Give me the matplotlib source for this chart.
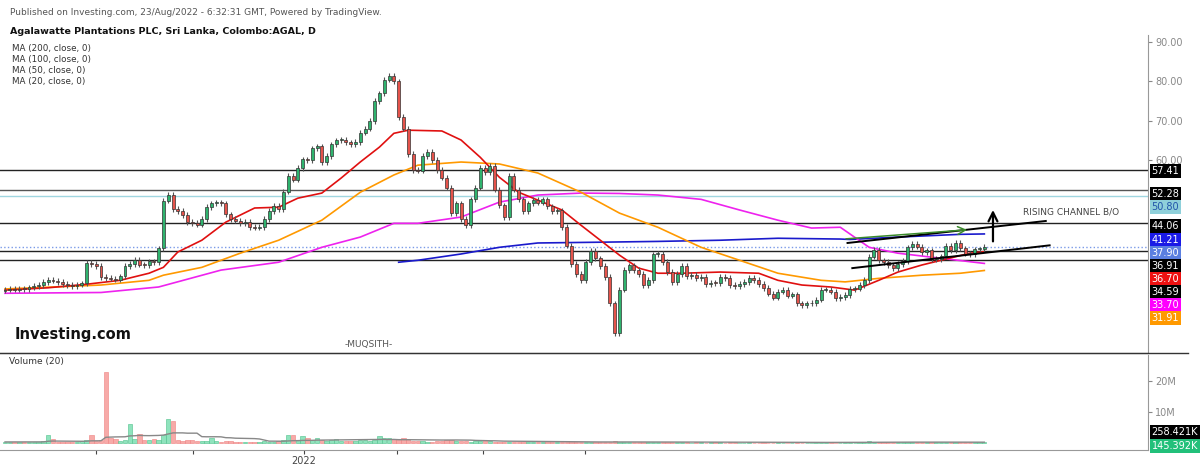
import numpy as np
import pandas as pd
import matplotlib
matplotlib.use("Agg")
import matplotlib.pyplot as plt
from matplotlib import transforms

# daily closes (bar 0 .. 204)
closes = [
    27.0, 27.2, 27.0, 27.3, 27.1, 27.6, 27.9, 28.2, 29.0, 29.6,
    29.3, 29.0, 28.5, 28.2, 28.0, 28.3, 28.6, 33.8, 33.5, 33.0,
    30.2, 30.0, 29.8, 29.6, 30.4, 33.0, 33.6, 34.6, 33.4, 33.2,
    34.2, 34.0, 37.5, 49.7, 51.2, 47.5, 47.0, 46.0, 44.2, 44.0,
    43.6, 45.0, 48.0, 49.0, 49.2, 49.0, 46.2, 45.0, 44.6, 44.0,
    44.2, 43.0, 42.8, 43.0, 45.0, 47.0, 48.4, 47.6, 52.0, 56.0,
    55.0, 58.0, 60.2, 60.0, 63.0, 63.5, 59.5, 61.0, 64.0, 65.0,
    65.2, 64.5, 64.0, 64.6, 67.0, 68.0, 70.0, 75.0, 77.0, 80.5,
    81.5, 80.0, 71.0, 68.0, 61.5, 57.5, 57.3, 61.0, 62.0, 60.0,
    57.5, 55.5, 53.0, 46.5, 49.0, 45.0, 43.5, 50.0, 53.0, 58.0,
    57.0, 58.5, 52.5, 48.5, 45.5, 56.0, 52.5, 50.0, 47.0, 49.0,
    49.8, 49.2, 50.0, 48.2, 47.0, 47.2, 43.0, 38.2, 33.5, 31.0,
    29.5, 34.0, 36.8, 35.0, 33.0, 30.2, 23.5, 16.0, 27.0, 32.0,
    33.2, 32.0, 31.0, 28.2, 29.5, 36.0, 36.2, 34.0, 31.5, 29.0,
    31.0, 33.0, 30.5, 30.8, 30.0, 30.2, 28.5, 28.8, 28.7, 30.2,
    30.0, 28.2, 28.0, 28.5, 29.0, 30.0, 29.5, 28.5, 27.5, 26.0,
    25.0, 26.5, 27.0, 25.5, 25.8, 23.5, 23.0, 23.5, 23.6, 24.5,
    27.0, 27.0, 26.5, 24.8, 25.2, 25.7, 27.2, 27.3, 28.2, 29.5,
    35.4, 37.2, 34.5, 34.0, 33.2, 32.5, 33.5, 34.3, 37.8, 38.6,
    38.0, 36.5, 37.0, 34.8, 34.8, 35.5, 38.2, 37.0, 39.0, 37.5,
    36.2, 36.0, 37.3, 37.3, 37.9,
]
first_open = 26.8

# volume in millions
volume = [
    0.3, 0.3, 0.2, 0.3, 0.3, 0.4, 0.3, 0.3, 0.5, 2.4,
    1.2, 0.4, 0.3, 0.3, 0.4, 0.3, 0.5, 1.0, 2.7, 0.6,
    0.8, 23.0, 1.5, 1.2, 0.6, 1.0, 6.0, 1.2, 3.0, 1.0,
    0.8, 1.2, 1.0, 2.5, 7.7, 7.2, 0.8, 0.7, 0.8, 0.9,
    0.6, 0.5, 0.6, 1.5, 0.5, 0.4, 0.6, 0.5, 0.4, 0.3,
    0.3, 0.4, 0.3, 0.2, 0.5, 0.4, 0.4, 0.6, 0.8, 2.5,
    2.4, 0.8, 2.3, 1.5, 0.8, 1.6, 1.0, 0.6, 0.8, 1.2,
    0.7, 0.6, 0.5, 0.6, 0.8, 0.9, 0.7, 1.0, 2.2, 1.5,
    1.5, 1.4, 0.8, 1.5, 1.2, 0.7, 0.6, 0.5, 0.4, 0.4,
    0.5, 0.6, 0.8, 0.9, 0.5, 0.7, 0.6, 0.4, 0.5, 0.6,
    1.0, 0.5, 0.4, 0.3, 0.3, 0.4, 0.3, 0.3, 0.4, 0.3,
    0.3, 0.2, 0.3, 0.2, 0.3, 0.2, 0.4, 0.3, 0.3, 0.4,
    0.3, 0.2, 0.3, 0.2, 0.2, 0.3, 0.4, 0.5, 0.4, 0.3,
    0.2, 0.2, 0.3, 0.2, 0.2, 0.3, 0.2, 0.2, 0.2, 0.3,
    0.2, 0.2, 0.2, 0.1, 0.2, 0.2, 0.1, 0.2, 0.2, 0.2,
    0.1, 0.2, 0.2, 0.1, 0.1, 0.2, 0.1, 0.1, 0.2, 0.1,
    0.1, 0.2, 0.1, 0.1, 0.1, 0.2, 0.1, 0.1, 0.1, 0.2,
    0.3, 0.2, 0.2, 0.1, 0.1, 0.2, 0.2, 0.1, 0.2, 0.3,
    0.5, 0.4, 0.3, 0.2, 0.2, 0.2, 0.2, 0.2, 0.3, 0.3,
    0.2, 0.2, 0.2, 0.2, 0.2, 0.2, 0.3, 0.2, 0.2, 0.2,
    0.2, 0.2, 0.2, 0.2, 0.3,
]

# moving averages: (bar index, value)
ma20_x = [0, 9, 17, 24, 30, 33, 36, 41, 46, 52, 57, 61, 66, 70, 74, 78, 81, 84, 91, 95, 99, 103,
          107, 111, 116, 120, 124, 128, 132, 136, 141, 149, 157, 161, 166, 172, 177, 182, 186,
          191, 196, 201, 204]
ma20_y = [26.9, 27.5, 28.4, 29.4, 31.2, 32.7, 36.6, 39.6, 44.2, 47.8, 48.0, 50.3, 51.6, 55.4,
          59.5, 63.3, 66.8, 67.6, 67.4, 65.1, 60.7, 55.6, 51.8, 49.8, 47.3, 43.4, 39.6, 35.8,
          32.5, 31.2, 31.2, 31.5, 31.2, 29.4, 28.2, 27.7, 26.9, 29.4, 31.5, 33.3, 34.8, 36.3, 36.7]
ma50_x = [0, 20, 30, 33, 41, 49, 57, 66, 74, 81, 86, 95, 103, 111, 120, 128, 136, 145, 153, 161,
          170, 175, 182, 191, 199, 204]
ma50_y = [27.2, 28.2, 29.4, 30.7, 32.7, 36.3, 39.6, 44.7, 51.8, 56.2, 58.7, 59.5, 59.0, 56.7,
          51.8, 46.5, 42.9, 37.8, 34.5, 31.2, 29.4, 29.0, 29.9, 30.7, 31.2, 31.9]
ma100_x = [0, 20, 32, 45, 57, 66, 74, 81, 86, 95, 103, 111, 120, 128, 136, 145, 153, 161, 168,
           174, 180, 186, 195, 204]
ma100_y = [26.1, 26.3, 27.7, 32.0, 34.0, 37.8, 40.4, 43.9, 43.9, 45.5, 49.3, 51.1, 51.6, 51.5,
           51.1, 50.0, 47.3, 44.7, 42.7, 42.9, 37.8, 36.3, 35.0, 33.7]
ma200_x = [82, 86, 95, 103, 111, 124, 136, 149, 161, 174, 176, 186, 199, 204]
ma200_y = [34.0, 34.5, 36.1, 37.8, 38.9, 39.1, 39.3, 39.6, 40.1, 39.9, 39.8, 40.4, 41.1, 41.2]

levels = [57.41, 52.28, 50.80, 44.06, 37.90, 36.91, 34.59]
level_colors = ["#222222", "#555555", "#9fd6e0", "#222222", "#7a9ae8", "#222222", "#222222"]
level_styles = ["-", "-", "-", "-", ":", "-", "-"]

tag_text = ["57.41", "52.28", "50.80", "44.06", "41.21", "37.90", "36.91", "36.70", "34.59",
            "33.70", "31.91"]
tag_pos = [57.2, 51.3, 48.0, 43.2, 39.6, 36.3, 33.0, 29.7, 26.4, 23.1, 19.8]
tag_bg = ["#000000", "#000000", "#8fd0da", "#000000", "#1a1ae6", "#5b7fe0", "#000000",
          "#ee1111", "#000000", "#ff00ff", "#ff9900"]
tag_fg = ["white", "white", "#2255aa", "white", "white", "white", "white", "white", "white",
          "white", "white"]

month_ticks = [18.9, 39.2, 62.3, 81.7, 99.6, 120.8]

closes = np.array(closes)
opens = np.concatenate([[first_open], closes[:-1]])
idx = np.arange(len(closes))
up = closes >= opens
vol = np.array(volume)
vol_ma = pd.Series(vol).rolling(20, min_periods=1).mean()

fig = plt.figure(figsize=(12, 4.68), dpi=100)
ax = fig.add_axes([0.0, 0.2457, 0.9567, 0.6793])
axv = fig.add_axes([0.0, 0.0385, 0.9567, 0.203])
xlim = (-1.04, 238.1)

# horizontal levels
for lv, c, ls in zip(levels, level_colors, level_styles):
    ax.axhline(lv, color=c, lw=1.0, ls=ls, zorder=1)

# moving averages
ax.plot(ma200_x, ma200_y, color="#1a1acc", lw=1.2, zorder=2)
ax.plot(ma100_x, ma100_y, color="#ee22ee", lw=1.2, zorder=2)
ax.plot(ma50_x, ma50_y, color="#ff9900", lw=1.2, zorder=2)
ax.plot(ma20_x, ma20_y, color="#e01010", lw=1.2, zorder=2)

# candles
wick = 0.7
lo = np.minimum(opens, closes) - wick
hi = np.maximum(opens, closes) + wick
ax.vlines(idx, lo, hi, color="#555555", lw=0.8, zorder=3)
body_col = np.where(up, "#2fb36e", "#e5534b")
ax.bar(idx, np.maximum(np.abs(closes - opens), 0.25), bottom=np.minimum(opens, closes),
       width=0.62, color=body_col, edgecolor="#333333", linewidth=0.5, zorder=4)

# channel lines and arrows
ax.plot([175.5, 216.8], [38.9, 44.5], color="black", lw=1.4, zorder=5)
ax.plot([176.5, 217.6], [32.5, 38.3], color="black", lw=1.4, zorder=5)
ax.annotate("", xy=(201, 42.3), xytext=(174.6, 39.9),
            arrowprops=dict(arrowstyle="->", color="#3a8a2a", lw=1.1, mutation_scale=14), zorder=5)
ax.annotate("", xy=(205.8, 48.0), xytext=(205.8, 38.6),
            arrowprops=dict(arrowstyle="->", color="black", lw=1.6, mutation_scale=16), zorder=5)
ax.text(212, 46.8, "RISING CHANNEL B/O", fontsize=6.5, color="#444444", va="center")

ax.set_xlim(*xlim)
ax.set_ylim(10.9, 91.8)
ax.yaxis.tick_right()
ax.set_yticks([60, 70, 80, 90])
ax.set_yticklabels(["%.2f" % v for v in [60, 70, 80, 90]])
ax.tick_params(axis="y", labelsize=7, colors="#888888", length=3, pad=2)
ax.set_xticks([])
for s in ["top", "left"]:
    ax.spines[s].set_visible(False)
ax.spines["right"].set_color("#999999")
ax.spines["bottom"].set_color("#333333")

tr = transforms.blended_transform_factory(ax.transAxes, ax.transData)
for t, p, bg, fg in zip(tag_text, tag_pos, tag_bg, tag_fg):
    ax.text(1.003, p, t, transform=tr, fontsize=7, color=fg, va="center", ha="left",
            bbox=dict(boxstyle="square,pad=0.2", fc=bg, ec="none"), zorder=10, clip_on=False)

ax.text(0.013, 0.035, "Investing.com", transform=ax.transAxes, fontsize=10.5, fontweight="bold",
        color="#111111", va="bottom")
ax.text(0.30, 0.02, "-MUQSITH-", transform=ax.transAxes, fontsize=6.5, color="#555555")

# volume pane
vcol = np.where(up, "#8fe3bd", "#f7aaa8")
vedge = np.where(up, "#4cc08a", "#ee8080")
axv.bar(idx, vol, width=0.9, color=vcol, edgecolor=vedge, linewidth=0.4)
axv.plot(idx, vol_ma, color="#888888", lw=1.0)
axv.set_xlim(*xlim)
axv.set_ylim(-2.3, 28.4)
axv.yaxis.tick_right()
axv.set_yticks([10, 20])
axv.set_yticklabels(["10M", "20M"])
axv.tick_params(axis="y", labelsize=7, colors="#888888", length=3, pad=2)
axv.set_xticks(month_ticks)
axv.set_xticklabels(["", "", "2022", "", "", ""])
axv.tick_params(axis="x", labelsize=7, colors="#444444", length=3, pad=1)
for s in ["top", "left"]:
    axv.spines[s].set_visible(False)
axv.spines["right"].set_color("#999999")
axv.spines["bottom"].set_color("#999999")
trv = transforms.blended_transform_factory(axv.transAxes, axv.transData)
axv.text(1.003, 3.5, "258.421K", transform=trv, fontsize=7, color="white", va="center",
         bbox=dict(boxstyle="square,pad=0.2", fc="black", ec="none"), clip_on=False)
axv.text(1.003, -0.9, "145.392K", transform=trv, fontsize=7, color="white", va="center",
         bbox=dict(boxstyle="square,pad=0.2", fc="#22c07a", ec="none"), clip_on=False)
axv.text(0.008, 0.9, "Volume (20)", transform=axv.transAxes, fontsize=6.5, color="#333333")

# header
fig.text(0.008, 0.983, "Published on Investing.com, 23/Aug/2022 - 6:32:31 GMT, Powered by TradingView.",
         fontsize=6.5, color="#555555", va="top")
fig.text(0.008, 0.943, "Agalawatte Plantations PLC, Sri Lanka, Colombo:AGAL, D",
         fontsize=6.8, fontweight="bold", color="#111111", va="top")
for k, t in enumerate(["MA (200, close, 0)", "MA (100, close, 0)", "MA (50, close, 0)",
                       "MA (20, close, 0)"]):
    fig.text(0.010, 0.905 - k * 0.0235, t, fontsize=6.3, color="#333333", va="top")
fig.add_artist(plt.Line2D([0, 0.99], [0.2457, 0.2457], color="#333333", lw=1.0))

fig.savefig("out.png", dpi=100, facecolor="white")
